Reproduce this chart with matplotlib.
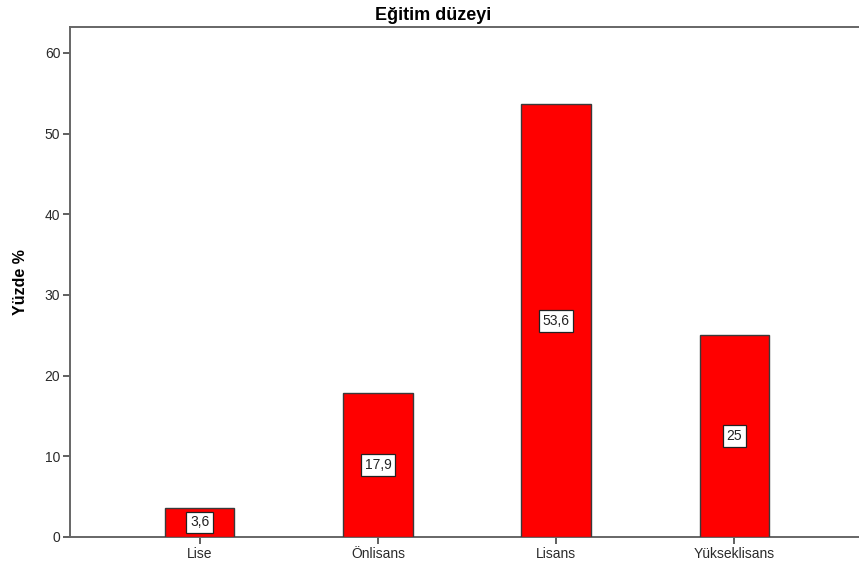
import matplotlib
matplotlib.use("Agg")
import matplotlib.pyplot as plt

categories = ["Lise", "Önlisans", "Lisans", "Yükseklisans"]
values = [3.6, 17.9, 53.6, 25.0]
value_labels = ["3,6", "17,9", "53,6", "25"]
yticks = [0, 10, 20, 30, 40, 50, 60]

plt.rcParams['font.family'] = ['Liberation Sans', 'DejaVu Sans']

W, H = 859, 568
fig = plt.figure(figsize=(W/100, H/100), dpi=100)
ax = fig.add_axes([70/W, 1-537/H, (864-70)/W, (537-27)/H])

x = list(range(len(categories)))
ax.bar(x, values, width=0.39, color="#ff0000", edgecolor="#3a3a3a", linewidth=1.0, zorder=3)
for xi, v, lab in zip(x, values, value_labels):
    ax.text(xi, v/2, lab, ha="center", va="center", fontsize=10, color="#222222", zorder=4,
            bbox=dict(boxstyle="square,pad=0.28", facecolor="white", edgecolor="#222222", linewidth=0.9))

ax.set_xlim(-0.728, 3.728)
ax.set_ylim(0, 63.2)
ax.set_xticks(x)
ax.set_xticklabels(categories, fontsize=10, color="#2a2a2a")
ax.set_yticks(yticks)
ax.set_yticklabels([str(t) for t in yticks], fontsize=10, color="#2a2a2a")
ax.tick_params(axis="both", direction="out", length=5, width=1.2, color="#444444", pad=2)

for s in ["left", "bottom", "top"]:
    ax.spines[s].set_color("#666666")
    ax.spines[s].set_linewidth(1.4)
ax.spines["right"].set_visible(False)

ax.set_ylabel("Yüzde %", fontsize=11.5, fontweight="bold", labelpad=12)
fig.text(433/W, 1-15/H, "Eğitim düzeyi", ha="center", va="center", fontsize=13, fontweight="bold")

fig.savefig("out.png", dpi=100)
